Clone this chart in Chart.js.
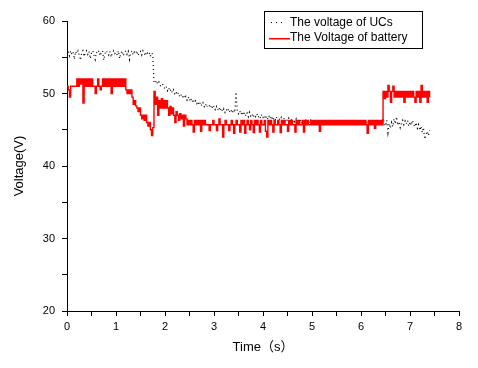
<!DOCTYPE html>
<html>
<head>
<meta charset="utf-8">
<title>Voltage of UCs and battery</title>
<script src="https://cdn.jsdelivr.net/npm/chart.js"></script>
<style>
  html, body { margin: 0; padding: 0; background: #fff; }
  #wrap { width: 478px; height: 368px; }
</style>
</head>
<body>
<div id="wrap"><canvas id="voltChart" width="478" height="368"></canvas></div>
<script>
  // samples are 0.025 s apart, starting at t = 0
  const sampleStep = 0.025;
  const seriesNames = ['The voltage of UCs', 'The Voltage of battery'];
  const xTitle = 'Time（s）';
  const yTitle = 'Voltage(V)';

  // ultracapacitor voltage (V), 20 samples per row = 0.5 s
  const ucVoltage = [
    55.5, 55.9, 55.2, 55.9, 55.4, 55.7, 54.7, 55.8, 55.5, 55.9, 55.3, 54.6, 55.6, 55.9, 55.1, 55.6, 55.9, 55.4, 55.8, 54.8,
    55.6, 55.9, 55.3, 54.7, 55.7, 55.5, 55.9, 55.2, 55.6, 55.9, 54.6, 55.5, 55.9, 55.6, 55.3, 55.8, 55.0, 55.6, 55.9, 55.5,
    55.7, 55.3, 55.9, 54.8, 55.6, 55.9, 55.2, 55.7, 55.9, 55.4, 55.8, 54.7, 55.6, 55.9, 55.3, 55.7, 55.5, 55.9, 55.2, 55.6,
    55.8, 55.3, 55.9, 55.6, 55.2, 55.8, 55.5, 55.7, 55.1, 55.6, 55.4, 51.7, 51.4, 51.8, 51.3, 51.6, 51.1, 51.0, 51.3, 50.8,
    50.7, 51.0, 50.4, 50.8, 50.3, 50.6, 50.1, 50.5, 50.0, 50.3, 49.8, 50.1, 49.6, 49.9, 49.4, 49.8, 49.3, 49.6, 49.1, 49.5,
    49.0, 49.4, 48.8, 49.2, 48.7, 49.0, 48.6, 48.9, 48.4, 48.8, 48.3, 48.7, 48.2, 48.6, 48.1, 48.5, 48.4, 48.0, 48.4, 47.9,
    48.3, 47.8, 48.2, 47.7, 48.1, 47.6, 48.0, 47.5, 47.9, 47.4, 47.8, 47.5, 47.9, 47.4, 47.7, 47.3, 47.8, 47.4, 50.2, 47.6,
    47.2, 47.6, 47.1, 47.5, 47.0, 47.4, 46.9, 47.3, 46.8, 47.4, 46.9, 47.2, 46.7, 47.1, 46.8, 47.2, 46.7, 47.0, 46.6, 47.1,
    46.7, 47.0, 46.5, 46.9, 46.4, 46.8, 46.5, 46.9, 46.3, 46.7, 46.4, 46.8, 46.2, 46.6, 46.3, 46.7, 46.2, 46.6, 46.1, 46.5,
    46.2, 46.6, 46.1, 46.5, 46.0, 46.4, 46.1, 46.5, 45.9, 46.3, 46.0, 46.4, 45.8, 46.3, 45.9, 46.3, 45.8, 46.2, 45.9, 46.3,
    45.9, 46.2, 46.0, 46.3, 45.8, 46.1, 45.9, 46.2, 45.8, 46.1, 45.9, 46.2, 45.8, 46.0, 45.9, 46.2, 45.8, 46.1, 45.9, 46.1,
    45.8, 46.1, 45.9, 46.2, 45.8, 46.0, 45.9, 46.2, 45.8, 46.1, 45.9, 46.1, 45.8, 46.0, 45.9, 46.2, 45.8, 46.1, 45.9, 46.0,
    45.8, 46.1, 45.9, 46.2, 45.8, 46.0, 45.9, 46.2, 45.8, 46.1, 45.9, 46.0, 45.8, 46.1, 45.9, 46.0, 45.8, 46.1, 46.6, 45.9,
    45.5, 46.3, 44.6, 45.9, 45.2, 46.0, 45.4, 46.5, 45.8, 46.8, 45.6, 46.1, 45.3, 45.9, 46.3, 45.7, 46.2, 45.8, 46.3, 45.5,
    46.1, 45.6, 46.3, 45.8, 45.4, 46.0, 45.2, 45.7, 44.9, 45.5, 44.6, 45.3, 43.7, 44.3, 44.8, 44.2, 44.9
  ];

  // battery voltage (V), same sampling
  const batteryVoltage = [
    51, 50.5, 49.5, 51, 51, 51, 51, 51, 52, 51, 52, 51.3, 52, 48.7, 52, 51, 52, 51, 52, 51,
    52, 51, 51, 50, 51, 52, 51, 50.5, 51, 52, 51, 52, 51, 52, 51, 52, 50, 52, 51, 52,
    51, 52, 51, 52, 51, 52, 51, 52, 50.5, 50, 50.5, 50, 50.5, 49.5, 48.5, 49, 48.3, 48, 47.5, 48,
    47, 46.5, 47, 46.3, 47, 46, 45.5, 46, 45, 44.2, 45.3, 50.3, 48.5, 49.5, 47, 49, 48, 49.3, 48, 49,
    48, 49, 48, 47, 48.2, 47.2, 48, 47, 46, 47.5, 47, 46.3, 47.2, 46.5, 47, 45.5, 47, 46.5, 45.7, 46.3,
    45.7, 46.3, 45.7, 44.7, 46.3, 45.7, 46.3, 45.7, 46.3, 44.8, 46.3, 45.7, 46.3, 45.7, 45.7, 45.7, 44.9, 45.7, 45.7, 46.3,
    45.7, 45.7, 44.9, 45.7, 46.5, 45.7, 45.7, 44, 45.7, 46.3, 45.7, 45.7, 44.9, 45.7, 46.3, 45.7, 44.5, 45.7, 46.3, 45.7,
    45.7, 44.7, 46.3, 45.7, 46.3, 44.5, 45.7, 46.3, 45.7, 45, 46.3, 45.7, 44.6, 46.3, 45.7, 46.3, 45.7, 44.7, 46.3, 45.7,
    45.7, 46.3, 44.8, 44, 46.3, 45.7, 46.3, 45.7, 44.7, 46.3, 45.7, 45.7, 46.3, 45.7, 44.6, 46.3, 45.7, 46.3, 45.7, 45.7,
    44.8, 46.3, 45.7, 46.3, 45.7, 45.7, 44.7, 46.3, 45.7, 46.3, 45.7, 45.7, 46.3, 44.7, 46.3, 45.7, 46.3, 45.7, 45.7, 46.3,
    45.7, 46.3, 45.7, 46.3, 45.7, 46.3, 44.8, 46.3, 45.7, 46.3, 45.7, 46.3, 45.7, 46.3, 45.7, 46.3, 45.7, 46.3, 45.7, 46.3,
    45.7, 46.3, 45.7, 46.3, 45.7, 46.3, 45.7, 46.3, 45.7, 46.3, 45.7, 46.3, 45.7, 46.3, 45.7, 46.3, 45.7, 46.3, 45.7, 46.3,
    45.7, 46.3, 45.7, 46.3, 45.7, 44.5, 46.3, 45.7, 46.3, 45.7, 46.3, 45.2, 46.3, 45.7, 46.3, 45.7, 46.3, 45.7, 50.3, 49.3,
    50.3, 49.5, 51.1, 50.3, 48.8, 50.3, 51, 49.5, 50.3, 49.5, 50.3, 49.5, 50.3, 49.5, 50.3, 48.8, 50.3, 49.5, 50.3, 49.5,
    50.3, 49.5, 50.3, 49.5, 48.8, 50.3, 49.5, 50.3, 48.8, 51.1, 49.5, 50.3, 49.5, 50.3, 48.8, 50.3, 49.5
  ];

  const toPoints = arr => arr.map((v, i) => ({ x: i * sampleStep, y: v }));

  // legend drawn by hand so it can sit inside the plot like the original
  const legendBox = {
    id: 'legendBox',
    afterDraw(chart) {
      const ctx = chart.ctx;
      const sets = chart.data.datasets;
      ctx.save();
      ctx.strokeStyle = '#000';
      ctx.lineWidth = 1;
      ctx.strokeRect(264.5, 11.5, 158, 37);

      ctx.font = '12px "Liberation Sans", Arial, sans-serif';
      ctx.textBaseline = 'middle';
      ctx.fillStyle = '#000';

      // UCs: dotted
      ctx.fillRect(271, 22, 1, 1);
      ctx.fillRect(276, 22, 1, 1);
      ctx.fillRect(281, 22, 1, 1);
      ctx.fillText(sets[0].label, 290, 23);
      ctx.fillText(sets[1].label, 290, 38);

      // battery: solid red
      ctx.fillStyle = '#ff0000';
      ctx.fillRect(269, 38, 21, 1.5);
      ctx.restore();
    }
  };

  const tickFont = { family: '"Liberation Sans", Arial, sans-serif', size: 11 };
  const titleFont = { family: '"Liberation Sans", Arial, "Noto Sans CJK SC", sans-serif', size: 13 };

  new Chart(document.getElementById('voltChart'), {
    type: 'line',
    data: {
      datasets: [
        {
          label: seriesNames[0],
          data: toPoints(ucVoltage),
          borderColor: '#000',
          borderWidth: 1.2,
          borderDash: [1, 3],
          pointRadius: 0,
          order: 1
        },
        {
          label: seriesNames[1],
          data: toPoints(batteryVoltage),
          borderColor: '#ff0000',
          borderWidth: 1.4,
          stepped: true,
          pointRadius: 0,
          order: 0
        }
      ]
    },
    options: {
      responsive: false,
      animation: false,
      layout: { padding: { top: 21, right: 19, left: 0, bottom: 0 } },
      plugins: {
        legend: { display: false },
        tooltip: { enabled: false }
      },
      scales: {
        x: {
          type: 'linear',
          min: 0,
          max: 8,
          afterFit(s) { s.height = 57; },
          border: { display: true, color: '#000', width: 1 },
          grid: { drawOnChartArea: false, drawTicks: true, tickLength: 5, color: '#000' },
          ticks: {
            stepSize: 0.5,
            maxRotation: 0,
            autoSkip: false,
            padding: 4,
            color: '#000',
            font: tickFont,
            callback: v => Number.isInteger(v) ? String(v) : ''
          },
          title: {
            display: true,
            text: xTitle,
            color: '#000',
            font: titleFont,
            padding: { top: 0, bottom: 13 }
          }
        },
        y: {
          min: 20,
          max: 60,
          afterFit(s) { s.width = 67; },
          border: { display: true, color: '#000', width: 1 },
          grid: { drawOnChartArea: false, drawTicks: true, tickLength: 5, color: '#000' },
          ticks: {
            stepSize: 5,
            autoSkip: false,
            padding: 7,
            color: '#000',
            font: tickFont,
            callback: v => v % 10 === 0 ? String(v) : ''
          },
          title: {
            display: true,
            text: yTitle,
            color: '#000',
            font: titleFont,
            padding: { top: 12, bottom: 0 }
          }
        }
      }
    },
    plugins: [legendBox]
  });
</script>
</body>
</html>
